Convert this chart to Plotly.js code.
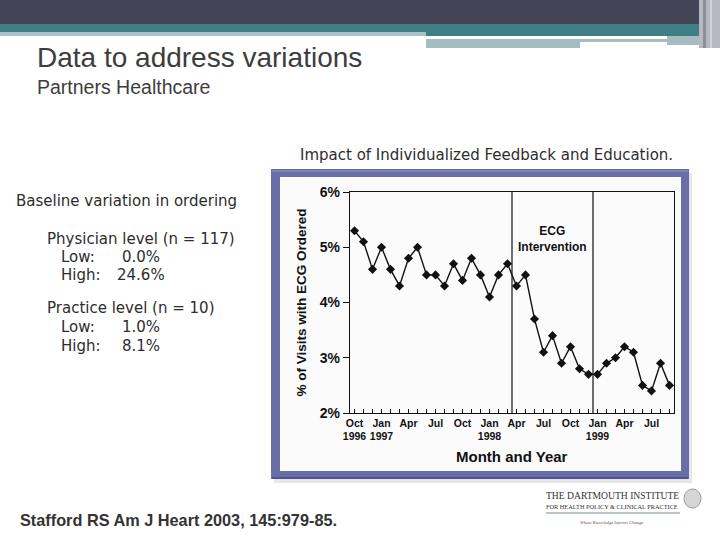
<!DOCTYPE html>
<html>
<head>
<meta charset="utf-8">
<script src="https://cdn.plot.ly/plotly-3.0.1.min.js"></script>
<style>html,body{margin:0;padding:0;background:#fff;}#chart{width:720px;height:540px;}</style>
</head>
<body>
<div id="chart"></div>
<script>
// ---- data ----
const months = ["Oct 1996","Nov 1996","Dec 1996","Jan 1997","Feb 1997","Mar 1997","Apr 1997","May 1997","Jun 1997","Jul 1997","Aug 1997","Sep 1997","Oct 1997","Nov 1997","Dec 1997","Jan 1998","Feb 1998","Mar 1998","Apr 1998","May 1998","Jun 1998","Jul 1998","Aug 1998","Sep 1998","Oct 1998","Nov 1998","Dec 1998","Jan 1999","Feb 1999","Mar 1999","Apr 1999","May 1999","Jun 1999","Jul 1999","Aug 1999","Sep 1999"];
const ecgPct = [5.3,5.1,4.6,5.0,4.6,4.3,4.8,5.0,4.5,4.5,4.3,4.7,4.4,4.8,4.5,4.1,4.5,4.7,4.3,4.5,3.7,3.1,3.4,2.9,3.2,2.8,2.7,2.7,2.9,3.0,3.2,3.1,2.5,2.4,2.9,2.5];
const tickMonths = ["Oct 1996","Jan 1997","Apr 1997","Jul 1997","Oct 1997","Jan 1998","Apr 1998","Jul 1998","Oct 1998","Jan 1999","Apr 1999","Jul 1999"];
const tickLabels = ["Oct<br>1996","Jan<br>1997","Apr","Jul","Oct","Jan<br>1998","Apr","Jul","Oct","Jan<br>1999","Apr","Jul"];
const yTicks = [2,3,4,5,6];
const yTickLabels = ["2%","3%","4%","5%","6%"];
const interventionStart = "Apr 1998";  // first month of intervention
const interventionEnd = "Jan 1999";    // first month after intervention

// ---- helpers ----
const idx = m => months.indexOf(m);
const xs = months.map((m,i)=>i);
const L=350, R=674, T=192, B=413;
const W=720, H=540;
const px = X => (X-L)/(R-L);
const py = Y => (B-Y)/(B-T);

const shapes = [];
const rect = (x0,y0,x1,y1,color,layer) => shapes.push({type:'rect',xref:'paper',yref:'paper',x0:px(x0),x1:px(x1),y0:py(y1),y1:py(y0),fillcolor:color,line:{width:0},layer:layer||'below'});
// header bands
rect(0,0,720,24,'#434455');
rect(0,24,720,32,'#3f7e84');
rect(0,32,426,36,'#a9c2c6');
rect(426,32,700,36,'#3f7e84');
rect(426,39,667,42,'#a7bcc0');
rect(426,42,580,48,'#a7bcc0');
rect(667,36,705,45,'#a7bcc0');
rect(699,0,720,48,'#b7b8c0');
rect(703,0,706,48,'#8d8e9a');
rect(710,0,712,48,'#d3d4da');
// frame shadow + frame
rect(274,173,692,483,'#e6e6ea');
rect(271,169,689,479,'#6a6ea6');
rect(272,170,688,172,'#8085b8');
rect(272,477,688,479,'#4f5392');
rect(280,177,681,471,'#fbfbfb');
// intervention lines
shapes.push({type:'line',xref:'x',yref:'paper',x0:idx(interventionStart)-0.5,x1:idx(interventionStart)-0.5,y0:0,y1:1,line:{color:'#111',width:1.2}});
shapes.push({type:'line',xref:'x',yref:'paper',x0:idx(interventionEnd)-0.5,x1:idx(interventionEnd)-0.5,y0:0,y1:1,line:{color:'#111',width:1.2}});
// Dartmouth logo line + seal
shapes.push({type:'line',xref:'paper',yref:'paper',x0:px(546),x1:px(680),y0:py(513),y1:py(513),line:{color:'#6f8c8c',width:1}});
shapes.push({type:'circle',xref:'paper',yref:'paper',x0:px(684),x1:px(701),y0:py(508),y1:py(489),fillcolor:'#d6d6d6',line:{color:'#9a9a9a',width:1}});

const ann = [];
const txt = (text,X,Y,size,opts) => ann.push(Object.assign({text:text,xref:'paper',yref:'paper',x:px(X-2),y:py(Y),xanchor:'left',yanchor:'middle',showarrow:false,font:{family:'Liberation Sans, Arial, sans-serif',size:size,color:'#333'}},opts||{}));
const F_DV = 'DejaVu Sans, Verdana, sans-serif';
const F_AR = 'Liberation Sans, Arial, sans-serif';
const lt = (s) => ({family:F_DV,size:s,color:'#2d2d2d'});
txt('Data to address variations',37,57,28,{font:{family:F_AR,size:28,color:'#3d3d3d'}});
txt('Partners Healthcare',37,87,19.5,{font:{family:F_AR,size:19.5,color:'#3d3d3d'}});
txt('Impact of Individualized Feedback and Education.',300,155,15,{font:lt(15)});
txt('Baseline variation in ordering',16,201,15,{font:lt(15)});
txt('Physician level (n = 117)',47,239,15,{font:lt(15)});
txt('Low:',61,257,15,{font:lt(15)});
txt('0.0%',164,257,15,{xanchor:'right',font:lt(15)});
txt('High:',61,275,15,{font:lt(15)});
txt('24.6%',169,275,15,{xanchor:'right',font:lt(15)});
txt('Practice level (n = 10)',47,308,15,{font:lt(15)});
txt('Low:',61,327,15,{font:lt(15)});
txt('1.0%',164,327,15,{xanchor:'right',font:lt(15)});
txt('High:',61,346,15,{font:lt(15)});
txt('8.1%',164,346,15,{xanchor:'right',font:lt(15)});
txt('<b>Stafford RS Am J Heart 2003, 145:979-85.</b>',20,520,16.3,{font:{family:F_AR,size:16.3,color:'#333'}});
txt('THE DARTMOUTH INSTITUTE',546,495,9.6,{font:{family:'Liberation Serif, Times New Roman, serif',size:9.6,color:'#333'}});
txt('FOR HEALTH POLICY &amp; CLINICAL PRACTICE',546,506,6.3,{font:{family:'Liberation Serif, Times New Roman, serif',size:6.3,color:'#333'}});
txt('<i>Where Knowledge Informs Change</i>',613,522,4.5,{xanchor:'center',font:{family:'Liberation Serif, Times New Roman, serif',size:4.5,color:'#555'}});
// in-chart annotation
ann.push({text:'<b>ECG<br>Intervention</b>',xref:'x',yref:'y',x:(idx(interventionStart)+idx(interventionEnd))/2-0.5,y:5.15,showarrow:false,xanchor:'center',yanchor:'middle',font:{family:F_AR,size:12,color:'#111'}});
ann.push({text:'<b>Month and Year</b>',xref:'paper',yref:'paper',x:0.5,y:py(456),showarrow:false,xanchor:'center',yanchor:'middle',font:{family:F_AR,size:15,color:'#111'}});

const trace = {x:xs,y:ecgPct,type:'scatter',mode:'lines+markers',line:{color:'#111',width:1.4},marker:{symbol:'diamond',size:7,color:'#111'},hoverinfo:'skip'};

const layout = {
  width:W,height:H,
  margin:{l:L,r:W-R,t:T,b:H-B,pad:0},
  paper_bgcolor:'#ffffff',plot_bgcolor:'rgba(0,0,0,0)',
  showlegend:false,
  xaxis:{range:[-0.5,months.length-0.5],tickmode:'array',tickvals:tickMonths.map(idx),ticktext:tickLabels,
    ticks:'inside',ticklen:4,tickcolor:'#111',showgrid:false,zeroline:false,showline:true,linecolor:'#111',linewidth:1.2,mirror:true,
    minor:{dtick:1,tick0:0,ticks:'inside',ticklen:4,tickcolor:'#111',showgrid:false},
    tickfont:{family:F_AR,size:10.5,color:'#111',weight:'bold'}},
  yaxis:{range:[2,6],tickmode:'array',tickvals:yTicks,ticktext:yTickLabels,ticks:'outside',ticklen:6,tickcolor:'#111',
    showgrid:false,zeroline:false,showline:true,linecolor:'#111',linewidth:1.2,mirror:true,
    tickfont:{family:F_AR,size:14,color:'#111',weight:'bold'},
    title:{text:'<b>% of Visits with ECG Ordered</b>',standoff:10,font:{family:F_AR,size:13.5,color:'#111'}}},
  shapes:shapes,annotations:ann
};
Plotly.newPlot('chart',[trace],layout,{displayModeBar:false,staticPlot:true});
</script>
</body>
</html>
